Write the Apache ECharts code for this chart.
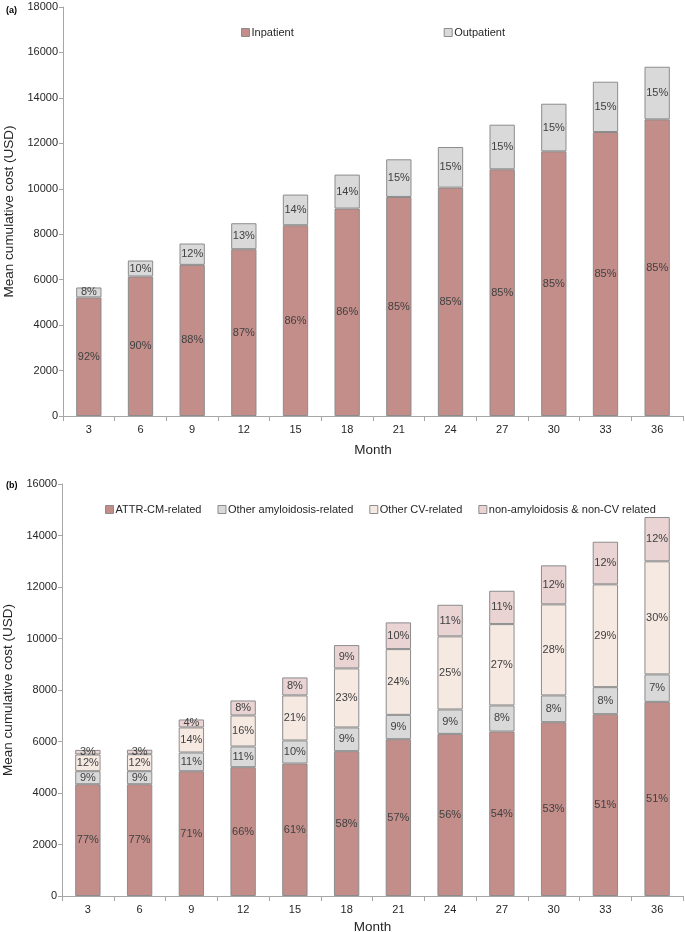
<!DOCTYPE html>
<html lang="en">
<head>
    <meta charset="UTF-8">
    <title>Mean cumulative cost</title>
    <script src="https://cdn.jsdelivr.net/npm/echarts@6/dist/echarts.min.js"></script>
    <style>
        html, body { margin: 0; padding: 0; background: #fff; }
        #chart { width: 685px; height: 932px; }
    </style>
</head>
<body>
    <div id="chart"></div>
    <script>
        // data
        var months = ['3', '6', '9', '12', '15', '18', '21', '24', '27', '30', '33', '36'];

        // panel (a)
        var inpatient = [5218, 6141, 6651, 7341, 8396, 9130, 9640, 10051, 10857, 11648, 12498, 13055];
        var outpatient = [439, 703, 940, 1143, 1349, 1494, 1657, 1787, 1963, 2095, 2213, 2316];
        var inpatientPct = ['92%', '90%', '88%', '87%', '86%', '86%', '85%', '85%', '85%', '85%', '85%', '85%'];
        var outpatientPct = ['8%', '10%', '12%', '13%', '14%', '14%', '15%', '15%', '15%', '15%', '15%', '15%'];

        // panel (b)
        var attrCm = [4341, 4341, 4846, 5002, 5146, 5624, 6090, 6296, 6389, 6751, 7062, 7540];
        var otherAmyloid = [505, 505, 727, 804, 894, 921, 945, 948, 1011, 1038, 1049, 1065];
        var otherCv = [649, 660, 972, 1205, 1749, 2293, 2553, 2838, 3160, 3536, 3992, 4392];
        var nonAmyloidCv = [179, 175, 311, 583, 699, 906, 1038, 1228, 1294, 1516, 1655, 1721];
        var attrCmPct = ['77%', '77%', '71%', '66%', '61%', '58%', '57%', '56%', '54%', '53%', '51%', '51%'];
        var otherAmyloidPct = ['9%', '9%', '11%', '11%', '10%', '9%', '9%', '9%', '8%', '8%', '8%', '7%'];
        var otherCvPct = ['12%', '12%', '14%', '16%', '21%', '23%', '24%', '25%', '27%', '28%', '29%', '30%'];
        var nonAmyloidCvPct = ['3%', '3%', '4%', '8%', '8%', '9%', '10%', '11%', '11%', '12%', '12%', '12%'];

        var fontFamily = '"Liberation Sans", Arial, sans-serif';
        var axisGray = '#a6a6a6';
        var textDark = '#262626';

        function barSeries(name, data, labels, color, gridIdx, stack) {
            return {
                name: name,
                type: 'bar',
                stack: stack,
                xAxisIndex: gridIdx,
                yAxisIndex: gridIdx,
                barWidth: '49%',
                data: data,
                itemStyle: { color: color, borderColor: '#8c8c8c', borderWidth: 1 },
                label: {
                    show: true,
                    position: 'inside',
                    fontFamily: fontFamily,
                    fontSize: 11,
                    color: '#404040',
                    formatter: function (p) { return labels[p.dataIndex]; }
                }
            };
        }

        function xAxisFor(gridIdx, gap) {
            return {
                type: 'category',
                gridIndex: gridIdx,
                data: months,
                name: 'Month',
                nameLocation: 'middle',
                nameGap: gap,
                nameTextStyle: { fontFamily: fontFamily, fontSize: 13.5, color: textDark },
                axisLine: { lineStyle: { color: axisGray } },
                axisTick: { show: true, length: 5, lineStyle: { color: axisGray } },
                axisLabel: { fontFamily: fontFamily, fontSize: 11, color: textDark, margin: 8 }
            };
        }

        function yAxisFor(gridIdx, max) {
            return {
                type: 'value',
                gridIndex: gridIdx,
                min: 0,
                max: max,
                interval: 2000,
                name: 'Mean cumulative cost (USD)',
                nameLocation: 'middle',
                nameGap: 45,
                nameTextStyle: { fontFamily: fontFamily, fontSize: 13.5, color: textDark },
                axisLine: { show: true, lineStyle: { color: axisGray } },
                axisTick: { show: true, length: 4, lineStyle: { color: axisGray } },
                axisLabel: {
                    fontFamily: fontFamily, fontSize: 11, color: textDark, margin: 5,
                    formatter: function (v) { return String(v); }
                },
                splitLine: { show: false }
            };
        }

        var chart = echarts.init(document.getElementById('chart'));
        var option = {
            animation: false,
            textStyle: { fontFamily: fontFamily },
            title: [
                { text: '(a)', left: 1, top: 1, textStyle: { fontFamily: fontFamily, fontSize: 9, fontWeight: 'bold', color: '#000' } },
                { text: '(b)', left: 1, top: 476, textStyle: { fontFamily: fontFamily, fontSize: 9, fontWeight: 'bold', color: '#000' } }
            ],
            legend: [
                {
                    data: ['Inpatient', 'Outpatient'],
                    left: 236, top: 22,
                    itemWidth: 8, itemHeight: 8, itemGap: 150,
                    icon: 'rect',
                    textStyle: { fontFamily: fontFamily, fontSize: 11, color: textDark, padding: [0, 0, 0, -3] },
                    itemStyle: { borderColor: '#8c8c8c', borderWidth: 1 }
                },
                {
                    data: ['ATTR-CM-related', 'Other amyloidosis-related', 'Other CV-related', 'non-amyloidosis & non-CV related'],
                    left: 100, top: 499,
                    itemWidth: 8, itemHeight: 8, itemGap: 16,
                    icon: 'rect',
                    textStyle: { fontFamily: fontFamily, fontSize: 11, color: textDark, padding: [0, 0, 0, -3] },
                    itemStyle: { borderColor: '#8c8c8c', borderWidth: 1 }
                }
            ],
            grid: [
                { left: 63, right: 2, top: 7, height: 409, outerBoundsMode: 'none' },
                { left: 62, right: 2, top: 484, height: 412, outerBoundsMode: 'none' }
            ],
            xAxis: [xAxisFor(0, 27), xAxisFor(1, 24)],
            yAxis: [yAxisFor(0, 18000), yAxisFor(1, 16000)],
            series: [
                barSeries('Inpatient', inpatient, inpatientPct, '#c38e8a', 0, 'a'),
                barSeries('Outpatient', outpatient, outpatientPct, '#d9d9d9', 0, 'a'),
                barSeries('ATTR-CM-related', attrCm, attrCmPct, '#c38e8a', 1, 'b'),
                barSeries('Other amyloidosis-related', otherAmyloid, otherAmyloidPct, '#d9d9d9', 1, 'b'),
                barSeries('Other CV-related', otherCv, otherCvPct, '#f6e9e2', 1, 'b'),
                barSeries('non-amyloidosis & non-CV related', nonAmyloidCv, nonAmyloidCvPct, '#e9d3d3', 1, 'b')
            ]
        };
        chart.setOption(option);
    </script>
</body>
</html>
